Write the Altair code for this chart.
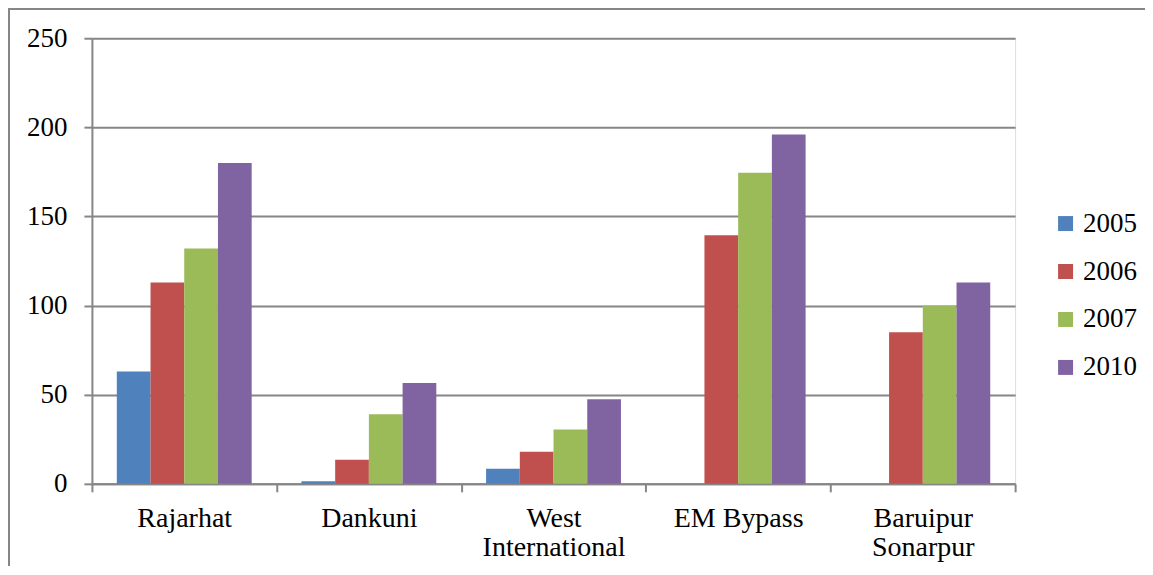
import altair as alt
import pandas as pd

sites = ["Rajarhat", "Dankuni", "West International", "EM Bypass", "Baruipur Sonarpur"]
years = ["2005", "2006", "2007", "2010"]
v2005 = [63, 1.5, 8.5, 0, 0]
v2006 = [113, 13.5, 18, 139.5, 85]
v2007 = [132, 39, 30.5, 174.5, 100]
v2010 = [180, 56.5, 47.5, 196, 113]
colors = ["#4F81BD", "#C0504D", "#9BBB59", "#8064A2"]

rows = []
for yr, vals in zip(years, [v2005, v2006, v2007, v2010]):
    for s, v in zip(sites, vals):
        rows.append({"site": s, "year": yr, "value": v})
df = pd.DataFrame(rows)

FONT = "Liberation Serif"
GRID = "#868686"

bars = alt.Chart(df).mark_bar().encode(
    x=alt.X("site:N", sort=sites,
            scale=alt.Scale(paddingInner=0, paddingOuter=0),
            axis=alt.Axis(title=None, labelAngle=0, tickBand="extent",
                          labelExpr="datum.value == 'West International' ? ['West', 'International'] : datum.value == 'Baruipur Sonarpur' ? ['Baruipur', 'Sonarpur'] : datum.value",
                          labelFont=FONT, labelFontSize=28, labelColor="#000000",
                          labelPadding=13, labelLineHeight=29,
                          domainColor=GRID, domainWidth=2, tickColor=GRID, tickWidth=2, tickSize=8,
                          grid=False)),
    xOffset=alt.XOffset("year:N", sort=years,
                        scale=alt.Scale(paddingInner=0, paddingOuter=0.738)),
    y=alt.Y("value:Q", scale=alt.Scale(domain=[0, 250], nice=False),
            axis=alt.Axis(title=None, values=[0, 50, 100, 150, 200, 250],
                          labelFont=FONT, labelFontSize=27, labelColor="#000000",
                          labelPadding=17,
                          domainColor=GRID, domainWidth=2, tickColor=GRID, tickWidth=2, tickSize=8,
                          gridColor=GRID, gridWidth=2)),
    color=alt.Color("year:N", sort=years,
                    scale=alt.Scale(domain=years, range=colors),
                    legend=alt.Legend(title=None, orient="none", legendX=961, legendY=172,
                                      symbolType="square", symbolSize=225, symbolStrokeWidth=0,
                                      labelFont=FONT, labelFontSize=27, labelColor="#000000",
                                      rowPadding=20, labelOffset=4)),
)

frame_left = alt.Chart(df).mark_rule(color=GRID, strokeWidth=2).encode(
    x=alt.value(-83), y=alt.value(-30), y2=alt.value(600))
frame_top = alt.Chart(df).mark_rule(color=GRID, strokeWidth=2).encode(
    x=alt.value(-83), x2=alt.value(1100), y=alt.value(-30))

chart = alt.layer(frame_left, frame_top, bars).properties(
    width=924, height=446,
    autosize=alt.AutoSizeParams(type="none"),
    padding={"left": 84, "top": 30, "right": 130, "bottom": 82},
).configure_view(stroke=None).configure(background="#ffffff")

chart.save("out.html", embed_options={"renderer": "svg", "actions": False})
